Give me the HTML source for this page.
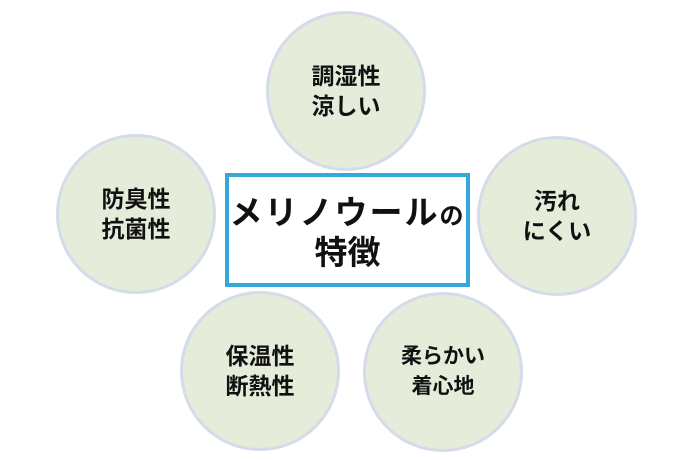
<!DOCTYPE html>
<html><head><meta charset="utf-8"><style>
body{margin:0;width:695px;height:460px;background:#fff;position:relative;overflow:hidden;font-family:"Liberation Sans","Noto Sans CJK JP",sans-serif;font-weight:bold;color:#111}
.c{position:absolute;width:154px;height:154px;border-radius:50%;background:#e5edda;border:3px solid #d5dbea;display:flex;align-items:center;justify-content:center;text-align:center;font-size:23px;line-height:30px}
.box{position:absolute;left:225px;top:173px;width:237px;height:106px;border:4px solid #34a8d9;background:#fff;text-align:center}
.t1{position:absolute;left:0;right:0;top:16px;font-size:33px;line-height:40px;letter-spacing:2px;white-space:nowrap}
.t2{position:absolute;left:0;right:0;top:56px;font-size:33px;line-height:40px}
</style></head><body>
<div class="c" style="left:266px;top:11px">調湿性<br>涼しい</div>
<div class="c" style="left:56px;top:134px">防臭性<br>抗菌性</div>
<div class="c" style="left:477px;top:136px">汚れ<br>にくい</div>
<div class="c" style="left:180px;top:291px">保温性<br>断熱性</div>
<div class="c" style="left:363px;top:292px;font-size:21px">柔らかい<br>着心地</div>
<div class="box"><div class="t1">メリノウール<span style="font-size:24px">の</span></div><div class="t2">特徴</div></div>
</body></html>
